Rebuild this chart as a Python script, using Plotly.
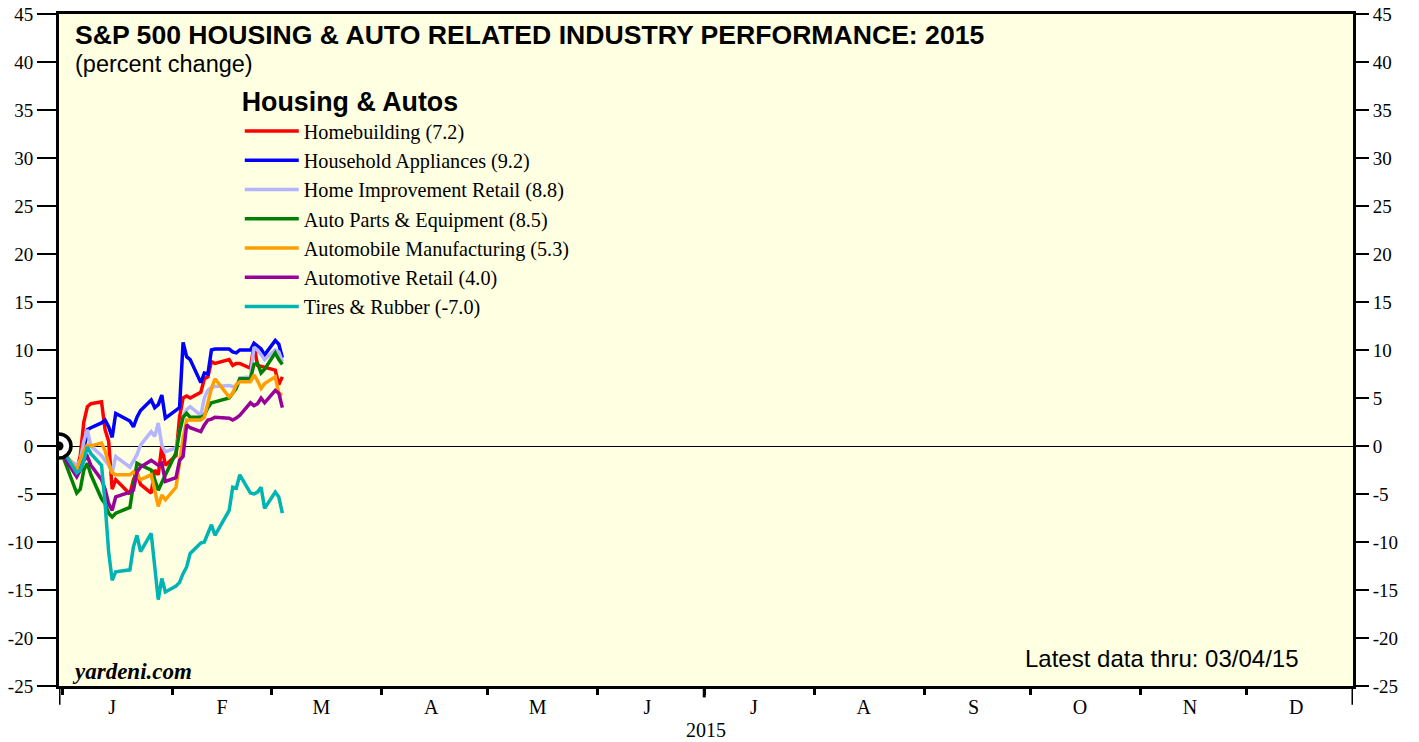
import plotly.graph_objects as go

dates = ["2014-12-31", "2015-01-02", "2015-01-05", "2015-01-06", "2015-01-07", "2015-01-08",
         "2015-01-09", "2015-01-12", "2015-01-13", "2015-01-14", "2015-01-15", "2015-01-16",
         "2015-01-20", "2015-01-21", "2015-01-22", "2015-01-23", "2015-01-26", "2015-01-27",
         "2015-01-28", "2015-01-29", "2015-01-30", "2015-02-02", "2015-02-03", "2015-02-04",
         "2015-02-05", "2015-02-06", "2015-02-09", "2015-02-10", "2015-02-11", "2015-02-12",
         "2015-02-13", "2015-02-17", "2015-02-18", "2015-02-19", "2015-02-20", "2015-02-23",
         "2015-02-24", "2015-02-25", "2015-02-26", "2015-02-27", "2015-03-02", "2015-03-03",
         "2015-03-04"]

homebuilding = [0, -1.0, -2.5, -1.0, 2.5, 4.1, 4.4, 4.6, 1.7, 0.5,
                -4.5, -3.5, -5.0, -3.5, -2.8, -4.0, -4.9, -2.5, -3.0, 0.0,
                -2.0, -1.0, 3.0, 5.0, 5.2, 5.0, 5.6, 7.0, 7.2, 8.8,
                8.6, 9.0, 8.4, 8.6, 8.6, 8.1, 10.5, 8.4, 8.3, 8.2,
                7.9, 6.4, 7.2]
appliances = [0, -1.2, -2.8, -2.0, -0.5, 1.7, 1.9, 2.4, 2.7, 2.0,
              0.9, 3.4, 2.6, 2.0, 3.0, 3.7, 4.8, 4.0, 4.3, 5.3,
              2.9, 3.8, 4.0, 10.8, 9.3, 9.0, 6.6, 7.6, 7.5, 10.0,
              10.1, 10.1, 9.8, 9.7, 10.0, 10.0, 10.7, 10.4, 10.1, 9.5,
              11.0, 10.6, 9.2]
home_improvement = [0, -1.2, -2.0, -1.5, 0.5, 1.7, 0.0, -1.0, -1.5, -2.0,
                    -2.8, -1.1, -2.2, -1.5, -0.9, 0.1, 1.5, 1.0, 2.4, 0.1,
                    -0.6, -0.2, 1.5, 3.0, 3.8, 4.1, 3.2, 5.0, 5.8, 6.1,
                    6.2, 6.3, 6.2, 6.2, 7.1, 7.2, 10.3, 10.0, 9.5, 9.0,
                    10.0, 9.8, 8.8]
auto_parts = [0, -2.0, -4.9, -4.5, -2.5, -1.8, -3.0, -5.5, -6.0, -7.0,
              -7.4, -7.0, -6.4, -4.0, -1.8, -2.0, -2.5, -3.5, -4.6, -3.8,
              -3.0, -0.7, 1.5, 3.0, 3.4, 3.0, 3.0, 3.2, 4.0, 4.5,
              4.6, 5.0, 5.5, 6.0, 7.0, 7.0, 8.5, 8.6, 7.6, 8.0,
              9.7, 9.0, 8.5]
auto_mfg = [0, -1.0, -2.5, -1.5, -0.5, 0.1, 0.0, 0.3, -0.5, -1.8,
            -2.8, -3.0, -3.0, -2.7, -3.0, -3.5, -3.0, -4.6, -6.3, -5.1,
            -5.6, -4.3, -1.5, 0.8, 2.7, 2.7, 2.7, 3.0, 4.5, 6.0,
            7.0, 5.1, 5.5, 6.4, 6.7, 6.7, 7.4, 6.8, 6.0, 6.5,
            7.2, 5.5, 5.3]
auto_retail = [0, -1.5, -3.2, -2.5, -1.5, -1.1, -2.0, -3.5, -4.5, -6.0,
               -6.7, -5.3, -4.8, -4.6, -2.7, -2.2, -1.5, -1.8, -2.0, -1.8,
               -3.7, -3.3, -1.5, -1.1, 2.2, 1.9, 1.5, 2.2, 2.7, 2.8,
               3.0, 2.9, 2.7, 2.9, 3.2, 4.5, 4.2, 4.4, 5.0, 4.5,
               5.8, 5.5, 4.0]
tires = [0, -1.0, -2.8, -2.5, -1.5, -0.1, -0.8, -2.0, -6.0, -11.0,
         -14.0, -13.1, -12.9, -10.5, -9.3, -11.0, -9.1, -12.5, -16.0, -13.8,
         -15.2, -14.6, -14.2, -13.3, -12.6, -11.2, -10.1, -10.0, -9.0, -8.2,
         -9.3, -6.7, -4.3, -4.4, -3.0, -4.9, -5.0, -4.8, -4.3, -6.5,
         -4.8, -5.3, -7.0]

series_names = ["Homebuilding (7.2)", "Household Appliances (9.2)", "Home Improvement Retail (8.8)",
                "Auto Parts & Equipment (8.5)", "Automobile Manufacturing (5.3)",
                "Automotive Retail (4.0)", "Tires & Rubber (-7.0)"]
series_values = [homebuilding, appliances, home_improvement, auto_parts, auto_mfg, auto_retail, tires]
series_colors = ["#FF0000", "#0000FF", "#B4B4FF", "#008000", "#FF9E00", "#990099", "#00B4B4"]

y_ticks = list(range(-25, 50, 5))
y_ticktext = [str(v) for v in y_ticks]
month_starts = ["2015-%02d-01" % m for m in range(1, 13)] + ["2016-01-01"]
month_mids = ["2015-%02d-15" % m for m in range(1, 13)]
month_letters = ["J", "F", "M", "A", "M", "J", "J", "A", "S", "O", "N", "D"]

SERIF = "Liberation Serif"
SANS = "Liberation Sans"

fig = go.Figure()
for i, (name, vals, col) in enumerate(zip(series_names, series_values, series_colors)):
    fig.add_trace(go.Scatter(x=dates, y=vals, mode="lines", name=name,
                             line=dict(color=col, width=3.5)))

# base point marker (bullseye)
fig.add_trace(go.Scatter(x=[dates[0]], y=[tires[0]], mode="markers", showlegend=False,
                         marker=dict(size=24, color="white", line=dict(color="black", width=3.5))))
fig.add_trace(go.Scatter(x=[dates[0]], y=[tires[0]], mode="markers", showlegend=False,
                         marker=dict(size=9, color="black")))
# dummy trace for right axis
fig.add_trace(go.Scatter(x=[dates[0]], y=[None], yaxis="y2", showlegend=False, hoverinfo="skip"))

fig.update_layout(
    template="none",
    width=1419, height=742,
    margin=dict(l=59, r=66, t=14, b=56, autoexpand=False),
    paper_bgcolor="white",
    plot_bgcolor="#FFFFE2",
    showlegend=True,
    legend=dict(x=0.1397, y=0.907, xanchor="left", yanchor="top",
                bgcolor="rgba(0,0,0,0)", borderwidth=0,
                font=dict(family=SERIF, size=20.2, color="black"),
                title=dict(text="<b>Housing & Autos</b>", side="top",
                           font=dict(family=SANS, size=26.8, color="black")),
                itemwidth=54, tracegroupgap=0),
    xaxis=dict(type="date", range=["2014-12-31", "2015-12-31"], automargin=False,
               tickmode="array", tickvals=month_mids, ticktext=month_letters,
               ticks="", ticklabelstandoff=1,
               tickfont=dict(family=SERIF, size=20, color="black"),
               minor=dict(tickmode="array", tickvals=month_starts, ticks="outside",
                          ticklen=6, tickwidth=3, tickcolor="black", showgrid=False),
               showgrid=False, showline=True, linecolor="black", linewidth=3, mirror=True,
               zeroline=False),
    yaxis=dict(range=[-25, 45], automargin=False, tickmode="array", tickvals=y_ticks,
               ticktext=y_ticktext, ticklabeloverflow="allow",
               ticks="outside", ticklen=19, tickwidth=1.5, tickcolor="black",
               tickfont=dict(family=SERIF, size=19, color="black"),
               showgrid=False, showline=True, linecolor="black", linewidth=3, mirror=True,
               zeroline=True, zerolinecolor="black", zerolinewidth=1),
    yaxis2=dict(range=[-25, 45], automargin=False, overlaying="y", side="right", tickmode="array",
                tickvals=y_ticks, ticktext=y_ticktext, ticklabeloverflow="allow",
                ticks="outside", ticklen=15, tickwidth=1.5, tickcolor="black",
                tickfont=dict(family=SERIF, size=19, color="black"),
                showgrid=False, showline=False, zeroline=False),
)

# longer year / half-year tick marks
for xd, ln in [("2014-12-31", 0.028), ("2015-07-01", 0.017), ("2015-12-31", 0.028)]:
    fig.add_shape(type="line", xref="x", yref="paper", x0=xd, x1=xd, y0=0, y1=-ln,
                  line=dict(color="black", width=3))

fig.add_annotation(text="<b>S&P 500 HOUSING & AUTO RELATED INDUSTRY PERFORMANCE: 2015</b>",
                   xref="paper", yref="paper", x=0.0108, y=0.9688, xanchor="left", yanchor="middle",
                   showarrow=False, font=dict(family=SANS, size=26.6, color="black"))
fig.add_annotation(text="(percent change)", xref="paper", yref="paper", x=0.0108, y=0.9256,
                   xanchor="left", yanchor="middle", showarrow=False,
                   font=dict(family=SANS, size=23.5, color="black"))
fig.add_annotation(text="<b><i>yardeni.com</i></b>", xref="paper", yref="paper", x=0.0085, y=0.0223,
                   xanchor="left", yanchor="middle", showarrow=False,
                   font=dict(family=SERIF, size=23, color="black"))
fig.add_annotation(text="Latest data thru: 03/04/15", xref="paper", yref="paper", x=0.745, y=0.0402,
                   xanchor="left", yanchor="middle", showarrow=False,
                   font=dict(family=SANS, size=24, color="black"))
fig.add_annotation(text="2015", xref="paper", yref="paper", x=0.5, y=-0.065,
                   xanchor="center", yanchor="middle", showarrow=False,
                   font=dict(family=SERIF, size=20, color="black"))

fig.write_html("out.html",
               config={"displayModeBar": False},
               post_script="document.body.style.margin='0px';document.body.style.overflow='hidden';")
